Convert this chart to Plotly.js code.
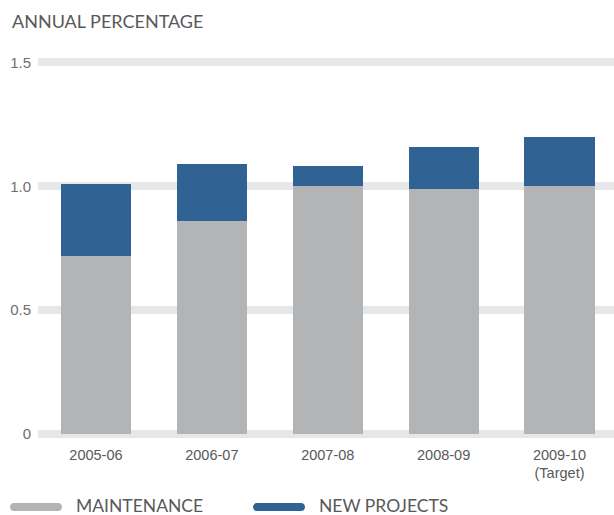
<!DOCTYPE html>
<html>
<head>
<meta charset="utf-8">
<script src="https://cdn.plot.ly/plotly-3.0.1.min.js"></script>
<style>html,body{margin:0;padding:0;background:#fff;}#chart{width:614px;height:515px;}</style>
</head>
<body>
<div id="chart"></div>
<script>
var categories = ['2005-06', '2006-07', '2007-08', '2008-09', '2009-10<br>(Target)'];
var maintenance = [0.72, 0.86, 1.00, 0.99, 1.00];
var totals = [1.01, 1.09, 1.08, 1.16, 1.20];
var newProjects = totals.map(function (t, i) { return +(t - maintenance[i]).toFixed(2); });
var yTicks = [0, 0.5, 1.0, 1.5];
var yTickText = ['0', '0.5', '1.0', '1.5'];
var seriesNames = ['MAINTENANCE', 'NEW PROJECTS'];
var seriesColors = ['#b3b4b6', '#306294'];

var W = 614, H = 515;
var textColor = '#58595b';

var traces = [
  { type: 'bar', x: categories, y: maintenance, name: seriesNames[0],
    marker: { color: seriesColors[0] }, showlegend: false, hoverinfo: 'skip' },
  { type: 'bar', x: categories, y: newProjects, name: seriesNames[1],
    marker: { color: seriesColors[1] }, showlegend: false, hoverinfo: 'skip' }
];

var layout = {
  width: W, height: H,
  margin: { l: 38, r: 0, t: 49.6, b: 71.1 },
  paper_bgcolor: '#ffffff', plot_bgcolor: '#ffffff',
  barmode: 'stack',
  bargap: 0.395,
  showlegend: false,
  font: { family: 'Lato, "Open Sans", sans-serif', color: textColor },
  title: { text: 'ANNUAL PERCENTAGE', xref: 'container', yref: 'container',
    x: 12 / W, xanchor: 'left', y: 1 - 22 / H, yanchor: 'middle',
    font: { family: 'Lato, sans-serif', size: 18, color: textColor } },
  xaxis: { type: 'category', range: [-0.5, 4.47], showgrid: false, zeroline: false,
    showline: false, ticks: '', fixedrange: true,
    tickfont: { family: '"Liberation Sans Narrow", "Liberation Sans", sans-serif', size: 14.5, color: textColor } },
  yaxis: { range: [-0.04, 1.55], tickvals: yTicks, ticktext: yTickText,
    showgrid: true, gridcolor: '#e6e7e8', gridwidth: 8, zeroline: false, showline: false,
    ticks: 'outside', ticklen: 3, tickcolor: 'rgba(0,0,0,0)', fixedrange: true,
    tickfont: { family: '"Liberation Sans Narrow", "Liberation Sans", sans-serif', size: 15, color: '#6d6e71' } },
  shapes: [],
  annotations: []
};

var legendItems = [
  { x0: 10, x1: 62, tx: 74 },
  { x0: 253, x1: 305, tx: 317 }
];
var plotW = W - layout.margin.l - layout.margin.r;
var plotH = H - layout.margin.t - layout.margin.b;
function pxToPaperX(x) { return (x - layout.margin.l) / plotW; }
function pxToPaperY(y) { return (H - layout.margin.b - y) / plotH; }
function roundedBarPaper(x0, x1, yc, h) {
  var r = h / 2, k = r * 1.33;
  function P(x, y) { return pxToPaperX(x) + ',' + pxToPaperY(y); }
  return 'M' + P(x0 + r, yc - r) + ' L' + P(x1 - r, yc - r) +
    ' C' + P(x1 - r + k, yc - r) + ' ' + P(x1 - r + k, yc + r) + ' ' + P(x1 - r, yc + r) +
    ' L' + P(x0 + r, yc + r) +
    ' C' + P(x0 + r - k, yc + r) + ' ' + P(x0 + r - k, yc - r) + ' ' + P(x0 + r, yc - r) + ' Z';
}
legendItems.forEach(function (it, i) {
  layout.shapes.push({ type: 'path', xref: 'paper', yref: 'paper', layer: 'above',
    path: roundedBarPaper(it.x0, it.x1, 507, 8), fillcolor: seriesColors[i], line: { width: 0 } });
  layout.annotations.push({ xref: 'paper', yref: 'paper', x: pxToPaperX(it.tx), y: pxToPaperY(505),
    xanchor: 'left', yanchor: 'middle', showarrow: false, text: seriesNames[i],
    font: { family: 'Lato, sans-serif', size: 17.5, color: textColor } });
});

Plotly.newPlot('chart', traces, layout, { displayModeBar: false, staticPlot: true });
</script>
</body>
</html>
